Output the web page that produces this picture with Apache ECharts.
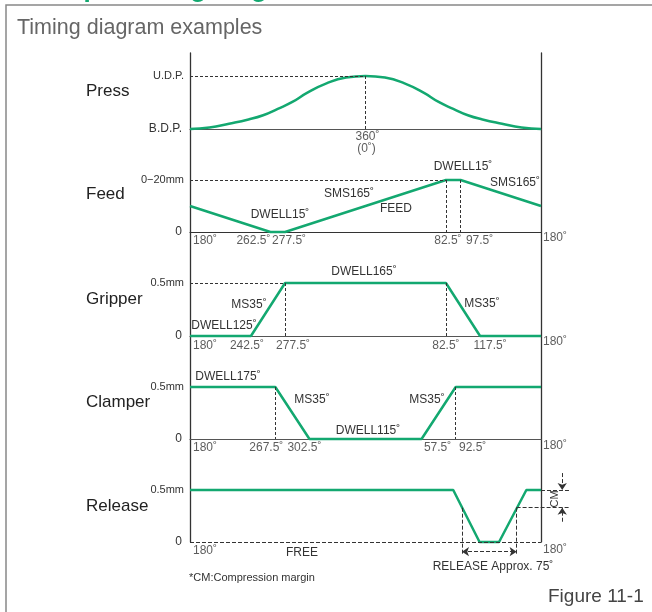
<!DOCTYPE html>
<html>
<head>
<meta charset="utf-8">
<title>Timing diagram examples</title>
<script src="https://cdn.jsdelivr.net/npm/echarts@6/dist/echarts.min.js"></script>
<style>
html,body{margin:0;padding:0;background:#fff;}
#main{width:652px;height:612px;}
</style>
</head>
<body>
<div id="main"></div>
<script>
// crank angle runs 180 -> 360(0) -> 180, written here as 180..540
var pressAngle = [180, 200, 220, 240, 255, 270, 285, 300, 320, 340, 360, 380, 400, 420, 435, 450, 465, 480, 500, 520, 540];
var pressLift  = [0, 0.03, 0.1, 0.18, 0.26, 0.38, 0.51, 0.68, 0.86, 0.97, 1, 0.97, 0.86, 0.68, 0.51, 0.38, 0.26, 0.18, 0.1, 0.03, 0];

var feedAngle = [180, 262.5, 277.5, 442.5, 457.5, 540];
var feedPos   = [0.5, 0, 0, 1, 1, 0.5];

var gripAngle = [180, 242.5, 277.5, 442.5, 477.5, 540];
var gripPos   = [0, 0, 0.5, 0.5, 0, 0];

var clampAngle = [180, 267.5, 302.5, 417.5, 452.5, 540];
var clampPos   = [0.5, 0.5, 0, 0, 0.5, 0.5];

var releaseAngle = [180, 450, 477, 497, 525, 540];
var releasePos   = [0.5, 0.5, 0, 0, 0.5, 0.5];
var releaseWindow = [459, 515];   // release approx. 75deg, measured at CM level
var cmLevel = 0.33;

// level labels (bottom, top)
var pressLevels = ['B.D.P.', 'U.D.P.'];
var feedLevels = ['0', '0\u221220mm'];
var gripLevels = ['0', '0.5mm'];
var clampLevels = ['0', '0.5mm'];
var releaseLevels = ['0', '0.5mm'];

// angle tick labels
var pressTicks = [360, 360];
var pressTickText = ['360\u02DA', '(0\u02DA)'];
var feedTicks = [180, 262.5, 277.5, 442.5, 457.5, 540];
var feedTickText = ['180\u02DA', '262.5\u02DA', '277.5\u02DA', '82.5\u02DA', '97.5\u02DA', '180\u02DA'];
var gripTicks = [180, 242.5, 277.5, 442.5, 477.5, 540];
var gripTickText = ['180\u02DA', '242.5\u02DA', '277.5\u02DA', '82.5\u02DA', '117.5\u02DA', '180\u02DA'];
var clampTicks = [180, 267.5, 302.5, 417.5, 452.5, 540];
var clampTickText = ['180\u02DA', '267.5\u02DA', '302.5\u02DA', '57.5\u02DA', '92.5\u02DA', '180\u02DA'];
var releaseTicks = [180, 540];
var releaseTickText = ['180\u02DA', '180\u02DA'];

// label nudges (px) so the tick texts sit like the printed figure
var pressShift = [[2, 8], [1, 20]];
var feedShift = [[15, 9], [-17, 9], [4, 9], [2, 9], [19, 9], [14, 6]];
var gripShift = [[15, 10], [-4, 10], [8, 10], [0, 10], [10, 10], [14, 6]];
var clampShift = [[15, 9], [-9, 9], [-5, 9], [16, 9], [17, 9], [14, 7]];
var releaseShift = [[15, 9], [14, 8]];

var GREEN = '#13a870';
var INK = '#333';
var FONT = '"Liberation Sans", Arial, sans-serif';

var chart = echarts.init(document.getElementById('main'));

function pairs(xs, ys) {
  return xs.map(function (x, i) { return [x, ys[i]]; });
}

function xAx(i, max, showLine, lineColor) {
  return {
    gridIndex: i, type: 'value', min: 180, max: max,
    axisLine: { show: showLine, onZero: true, lineStyle: { color: lineColor || INK, width: 1.2 } },
    axisTick: { show: false }, axisLabel: { show: false }, splitLine: { show: false }
  };
}

function yAx(i, min, max, levels, top) {
  return {
    gridIndex: i, type: 'value', min: min, max: max,
    axisLine: { show: false }, axisTick: { show: false }, splitLine: { show: false },
    axisLabel: {
      customValues: [0, top],
      margin: 6, fontSize: 11, color: INK, fontFamily: FONT,
      rich: { z: { fontSize: 12, color: INK, fontFamily: FONT, padding: [0, 2, 0, 0] } },
      formatter: function (v) { return v === 0 ? '{z|' + levels[0] + '}' : levels[1]; }
    }
  };
}

function dotted(list) {
  return {
    silent: true, symbol: ['none', 'none'], label: { show: false },
    lineStyle: { type: [3, 2], color: INK, width: 1 },
    data: list.map(function (p) { return [{ coord: p[0] }, { coord: p[1] }]; })
  };
}

function wave(i, xs, ys, guides, smooth) {
  return {
    type: 'line', xAxisIndex: i, yAxisIndex: i, data: pairs(xs, ys),
    showSymbol: false, smooth: smooth || false, clip: false, silent: true, z: 3,
    lineStyle: { color: GREEN, width: 2.5 },
    markLine: guides ? dotted(guides) : undefined
  };
}

function tickLabels(i, ticks, texts, shift) {
  return {
    type: 'scatter', xAxisIndex: i, yAxisIndex: i, symbolSize: 0, clip: false, silent: true,
    itemStyle: { color: 'rgba(0,0,0,0)' },
    label: { show: true, position: 'inside', color: INK, fontSize: 12, fontFamily: FONT },
    data: ticks.map(function (a, k) {
      return { value: [a, 0], label: { formatter: texts[k], offset: shift[k] } };
    })
  };
}

function txt(text, x, y, size, align, color, extra) {
  var el = {
    type: 'text', x: x, y: y, silent: true,
    style: { text: text, fill: color || INK, font: size + 'px ' + FONT, align: align || 'center', verticalAlign: 'middle' }
  };
  if (extra) { for (var k in extra) el[k] = extra[k]; }
  return el;
}

var solid = { color: INK, width: 1 };
var releaseMarks = {
  silent: true, symbol: ['none', 'none'], symbolSize: 7, label: { show: false },
  lineStyle: solid,
  data: [
    [{ coord: [180, 0] }, { coord: [540, 0] }],
    [{ coord: [releaseWindow[0], cmLevel] }, { coord: [releaseWindow[0], -0.125] }],
    [{ coord: [releaseWindow[1], cmLevel] }, { coord: [releaseWindow[1], -0.125] }],
    [{ coord: [releaseWindow[1], cmLevel] }, { coord: [569.7, cmLevel] }],
    [{ coord: [540, 0.5] }, { coord: [569.7, 0.5] }],
    [{ coord: [561.8, 0.663], symbol: 'none' }, { coord: [561.8, 0.5], symbol: 'arrow' }],
    [{ coord: [561.8, 0.195], symbol: 'none' }, { coord: [561.8, cmLevel], symbol: 'arrow' }],
    [{ coord: [releaseWindow[0], -0.093], symbol: 'arrow' }, { coord: [releaseWindow[1], -0.093], symbol: 'arrow' }]
  ]
};

var releaseSeries = wave(4, releaseAngle, releasePos, null);
releaseSeries.markLine = releaseMarks;

chart.setOption({
  animation: false,
  backgroundColor: '#fff',
  grid: [
    { left: 190, top: 76, width: 351, height: 53 },
    { left: 190, top: 180, width: 351, height: 52 },
    { left: 190, top: 283, width: 351, height: 53 },
    { left: 190, top: 387, width: 351, height: 52 },
    { left: 190, top: 469.2, width: 385.1, height: 88.4 },
    { left: 190, top: 53, width: 351, height: 489 }
  ],
  xAxis: [
    xAx(0, 540, true, '#555'),
    xAx(1, 540, true),
    xAx(2, 540, true, '#555'),
    xAx(3, 540, true, '#555'),
    xAx(4, 575, false),
    { gridIndex: 5, type: 'value', min: 0, max: 1, show: false }
  ],
  yAxis: [
    yAx(0, 0, 1, pressLevels, 1),
    yAx(1, 0, 1, feedLevels, 1),
    yAx(2, 0, 0.5, gripLevels, 0.5),
    yAx(3, 0, 0.5, clampLevels, 0.5),
    yAx(4, -0.15, 0.7, releaseLevels, 0.5),
    { gridIndex: 5, type: 'value', min: 0, max: 1, position: 'left',
      axisLine: { show: true, lineStyle: { color: INK, width: 1.3 } },
      axisTick: { show: false }, axisLabel: { show: false }, splitLine: { show: false } },
    { gridIndex: 5, type: 'value', min: 0, max: 1, position: 'right',
      axisLine: { show: true, lineStyle: { color: INK, width: 1.3 } },
      axisTick: { show: false }, axisLabel: { show: false }, splitLine: { show: false } }
  ],
  series: [
    wave(0, pressAngle, pressLift, [[[180, 1], [360, 1]], [[360, 1], [360, 0]]], true),
    wave(1, feedAngle, feedPos, [
      [[180, 1], [feedAngle[3], 1]],
      [[feedAngle[3], 1], [feedAngle[3], 0]],
      [[feedAngle[4], 1], [feedAngle[4], 0]]
    ]),
    wave(2, gripAngle, gripPos, [
      [[180, 0.5], [gripAngle[2], 0.5]],
      [[gripAngle[2], 0.5], [gripAngle[2], 0]],
      [[gripAngle[3], 0.5], [gripAngle[3], 0]]
    ]),
    wave(3, clampAngle, clampPos, [
      [[clampAngle[1], 0.5], [clampAngle[1], 0]],
      [[clampAngle[4], 0.5], [clampAngle[4], 0]]
    ]),
    releaseSeries,
    tickLabels(0, pressTicks, pressTickText, pressShift),
    tickLabels(1, feedTicks, feedTickText, feedShift),
    tickLabels(2, gripTicks, gripTickText, gripShift),
    tickLabels(3, clampTicks, clampTickText, clampShift),
    tickLabels(4, releaseTicks, releaseTickText, releaseShift)
  ],
  graphic: [
    { type: 'polyline', silent: true, shape: { points: [[6, 612], [6, 5], [652, 5]] },
      style: { stroke: '#888', lineWidth: 1.5, fill: null } },
    { type: 'text', x: 14, y: -10, silent: true,
      style: { text: 'Example timing diagram', fill: GREEN, font: 'bold 26px ' + FONT, align: 'left', verticalAlign: 'middle' } },
    txt('Timing diagram examples', 17, 28, 21.5, 'left', '#666'),

    txt('Press', 86, 91, 17, 'left', '#222'),
    txt('Feed', 86, 194, 17, 'left', '#222'),
    txt('Gripper', 86, 299, 17, 'left', '#222'),
    txt('Clamper', 86, 402, 17, 'left', '#222'),
    txt('Release', 86, 506, 17, 'left', '#222'),

    txt('DWELL15\u02DA', 280, 215, 12),
    txt('SMS165\u02DA', 349, 194, 12),
    txt('FEED', 396, 209, 12),
    txt('DWELL15\u02DA', 463, 167, 12),
    txt('SMS165\u02DA', 515, 183, 12),

    txt('DWELL165\u02DA', 364, 272, 12),
    txt('MS35\u02DA', 249, 305, 12),
    txt('DWELL125\u02DA', 224, 326, 12),
    txt('MS35\u02DA', 482, 304, 12),

    txt('DWELL175\u02DA', 228, 377, 12),
    txt('MS35\u02DA', 312, 400, 12),
    txt('DWELL115\u02DA', 368, 431, 12),
    txt('MS35\u02DA', 427, 400, 12),

    txt('FREE', 302, 553, 12),
    txt('RELEASE Approx. 75\u02DA', 493, 567, 12),
    txt('CM', 555, 499, 11, 'center', INK, { rotation: Math.PI / 2 }),
    txt('*CM:Compression margin', 189, 578, 11, 'left'),
    txt('Figure 11-1', 548, 597, 19, 'left', '#444')
  ]
});
</script>
</body>
</html>
